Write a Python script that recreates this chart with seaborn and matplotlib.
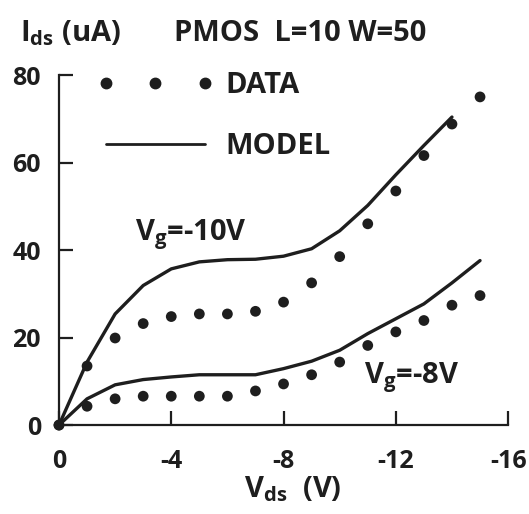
import numpy as np
import pandas as pd
import seaborn as sns
import matplotlib.pyplot as plt
from matplotlib.lines import Line2D

# values (Vds in V, Ids in uA)
vds_data = [0, -1, -2, -3, -4, -5, -6, -7, -8, -9, -10, -11, -12, -13, -14, -15]
ids_data_10 = [0, 13.5, 19.9, 23.2, 24.8, 25.4, 25.4, 26.0, 28.1, 32.5, 38.5, 46.0, 53.5, 61.6, 68.8, 75.0]
ids_data_8 = [0, 4.3, 6.0, 6.6, 6.6, 6.6, 6.6, 7.8, 9.4, 11.5, 14.4, 18.2, 21.3, 23.9, 27.4, 29.6]

vds_model_10 = [0, -1, -2, -3, -4, -5, -6, -7, -8, -9, -10, -11, -12, -13, -14]
ids_model_10 = [0, 14.4, 25.4, 31.9, 35.7, 37.3, 37.8, 37.9, 38.6, 40.3, 44.4, 50.2, 57.2, 63.9, 70.4]
vds_model_8 = [0, -1, -2, -3, -4, -5, -6, -7, -8, -9, -10, -11, -12, -13, -14, -15]
ids_model_8 = [0, 6.0, 9.2, 10.4, 11.0, 11.5, 11.5, 11.5, 12.9, 14.6, 17.1, 20.9, 24.3, 27.7, 32.5, 37.6]

xticks = [0, -4, -8, -12, -16]
yticks = [0, 20, 40, 60, 80]

sns.set_style("ticks")
plt.rcParams['font.family'] = ['Open Sans', 'DejaVu Sans']
plt.rcParams['font.weight'] = 'bold'
plt.rcParams['axes.unicode_minus'] = False
plt.rcParams['mathtext.fontset'] = 'custom'
plt.rcParams['mathtext.rm'] = 'Open Sans:bold'
plt.rcParams['mathtext.it'] = 'Open Sans:bold'
plt.rcParams['mathtext.bf'] = 'Open Sans:bold'

ink = "#1e1e1e"
fs_tick = 18
fs = 21

fig = plt.figure(figsize=(5.29, 5.14), dpi=100)
ax = fig.add_axes([0.1115, 0.173, 0.849, 0.681])

dat = pd.DataFrame({"vds": vds_data, "i10": ids_data_10, "i8": ids_data_8})
m10 = pd.DataFrame({"vds": vds_model_10, "ids": ids_model_10})
m8 = pd.DataFrame({"vds": vds_model_8, "ids": ids_model_8})

sns.lineplot(data=m10, x="vds", y="ids", color=ink, lw=2.4, ax=ax, sort=False)
sns.lineplot(data=m8, x="vds", y="ids", color=ink, lw=2.4, ax=ax, sort=False)
sns.scatterplot(data=dat, x="vds", y="i10", color=ink, s=60, edgecolor="none", ax=ax, clip_on=False)
sns.scatterplot(data=dat, x="vds", y="i8", color=ink, s=60, edgecolor="none", ax=ax, clip_on=False)

ax.set_xlim(0, -16)
ax.set_ylim(0, 80)
ax.set_xticks(xticks)
ax.set_yticks(yticks)
ax.set_xticklabels([str(t) for t in xticks])
ax.set_yticklabels([str(t) for t in yticks])
ax.tick_params(direction="in", length=10, width=1.6, color=ink, labelsize=fs_tick,
               labelcolor=ink)
ax.tick_params(axis="y", pad=13)
ax.tick_params(axis="x", pad=17)
for lab in ax.get_xticklabels() + ax.get_yticklabels():
    lab.set_fontweight("bold")
sns.despine(ax=ax)
for s in ["left", "bottom"]:
    ax.spines[s].set_linewidth(1.6)
    ax.spines[s].set_color(ink)
ax.set_xlabel("")
ax.set_ylabel("")

handles = [Line2D([], [], ls="none", marker="o", ms=7.5, color=ink),
           Line2D([], [], color=ink, lw=2.0)]
ax.legend(handles, ["DATA", "MODEL"], loc="upper left", bbox_to_anchor=(0.085, 1.012),
          borderaxespad=0, borderpad=0, frameon=False, numpoints=3,
          handlelength=4.0, handletextpad=0.38, labelspacing=1.1,
          prop={"weight": "bold", "size": fs}, labelcolor=ink)

ax.text(-2.7, 42.3, "V$_\\mathrm{g}$=-10V", fontsize=fs, fontweight="bold", color=ink)
ax.text(-10.85, 9.6, "V$_\\mathrm{g}$=-8V", fontsize=fs, fontweight="bold", color=ink)

fig.text(0.038, 0.92, "I$_\\mathrm{ds}$ (uA)", fontsize=fs, fontweight="bold", color=ink)
fig.text(0.567, 0.92, "PMOS  L=10 W=50", fontsize=fs, fontweight="bold", color=ink, ha="center")
fig.text(0.553, 0.032, "V$_\\mathrm{ds}$  (V)", fontsize=fs, fontweight="bold", color=ink, ha="center")

fig.savefig("out.png", dpi=100)
